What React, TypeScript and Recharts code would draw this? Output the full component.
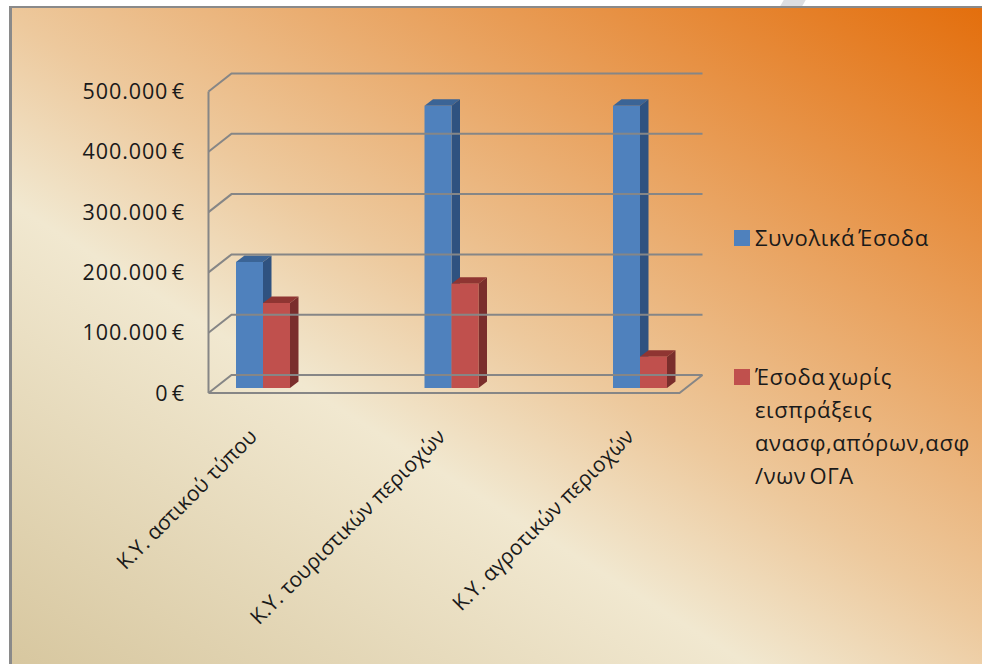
import React from "react";
import { BarChart, Bar, XAxis, YAxis, Legend } from "recharts";

// Health-centre categories and the two income series, in euros.
const categories = [
  "Κ.Υ. αστικού τύπου",
  "Κ.Υ. τουριστικών περιοχών",
  "Κ.Υ. αγροτικών περιοχών",
];
const totalIncome = [209000, 468000, 468000];
const netIncome = [141000, 173000, 52000];
const yTicks = [0, 100000, 200000, 300000, 400000, 500000];
const yTickLabels = ["0 €", "100.000 €", "200.000 €", "300.000 €", "400.000 €", "500.000 €"];
const seriesNames = ["Συνολικά Έσοδα", "Έσοδα χωρίς\nεισπράξεις\nανασφ,απόρων,ασφ\n/νων ΟΓΑ"];

const rows = categories.map((name, i) => ({
  name,
  total: totalIncome[i],
  net: netIncome[i],
}));

const FONT = "'Open Sans', sans-serif";
const TEXT = "#1a1a1a";
const GRID = "#868686";

// Plot box used by the scales, and the oblique projection of the floor and walls.
const W = 982;
const H = 664;
const LEFT = 169;
const RIGHT = 734.5;
const TOP = 86.5;
const BOTTOM = 388;
const WALL_X = 208.5;
const FLOOR_END_X = 679.5;
const DEPTH_X = 23;
const DEPTH_Y = 18;
const FRONT_SHIFT = 5;

const YTick = (props: any) => {
  const { y, payload } = props;
  const front = y + FRONT_SHIFT;
  const back = front - DEPTH_Y;
  const idx = yTicks.indexOf(payload.value);
  return (
    <g>
      <polyline
        points={`${WALL_X},${front} ${WALL_X + DEPTH_X},${back} ${FLOOR_END_X + DEPTH_X},${back}`}
        fill="none"
        stroke={GRID}
        strokeWidth={2}
      />
      {payload.value === 0 && (
        <polyline
          points={`${WALL_X},${front} ${FLOOR_END_X},${front} ${FLOOR_END_X + DEPTH_X},${back}`}
          fill="none"
          stroke={GRID}
          strokeWidth={2}
        />
      )}
      {payload.value === yTicks[yTicks.length - 1] && (
        <line
          x1={WALL_X}
          y1={front}
          x2={WALL_X}
          y2={front + (BOTTOM - TOP)}
          stroke={GRID}
          strokeWidth={2}
        />
      )}
      <text
        x={185}
        y={front + 7.5}
        textAnchor="end"
        fontFamily={FONT}
        fontSize={21.5}
        letterSpacing={0.9}
        wordSpacing={-3}
        fill={TEXT}
      >
        {yTickLabels[idx]}
      </text>
    </g>
  );
};

const XTick = (props: any) => {
  const { x, payload } = props;
  return (
    <text
      transform={`translate(${x - 5},438) rotate(-45)`}
      textAnchor="end"
      fontFamily={FONT}
      fontSize={21}
      fill={TEXT}
    >
      {payload.value}
    </text>
  );
};

// Extruded column: front face, then the lit top and the shaded side.
const depthColumn = (topFill: string, sideFill: string) => (props: any) => {
  const { x, y, width, height, fill } = props;
  const dx = 8.5;
  const dy = 6.5;
  return (
    <g>
      <polygon
        points={`${x},${y} ${x + dx},${y - dy} ${x + width + dx},${y - dy} ${x + width},${y}`}
        fill={topFill}
      />
      <polygon
        points={`${x + width},${y} ${x + width + dx},${y - dy} ${x + width + dx},${y + height - dy} ${x + width},${y + height}`}
        fill={sideFill}
      />
      <rect x={x} y={y} width={width} height={height} fill={fill} />
    </g>
  );
};

const LegendBlock = ({ payload }: any) => {
  const tops = [221, 360];
  return (
    <>
      {(payload || []).map((entry: any, i: number) => (
        <div
          key={entry.value}
          style={{
            position: "absolute",
            left: 734,
            top: tops[i],
            display: "flex",
            width: 245,
            fontFamily: FONT,
            fontSize: 22,
            letterSpacing: 0.6,
            wordSpacing: -3,
            lineHeight: "33px",
            color: TEXT,
            whiteSpace: "pre",
            textAlign: "left",
          }}
        >
          <span
            style={{
              width: 16,
              height: 16,
              marginTop: 9,
              marginRight: 5,
              background: entry.color,
              flex: "none",
            }}
          />
          <span>{entry.value}</span>
        </div>
      ))}
    </>
  );
};

export default function App() {
  return (
    <div
      style={{
        position: "fixed",
        left: 0,
        top: 0,
        width: W,
        height: H,
        overflow: "hidden",
        background: "#ffffff",
      }}
    >
      <div
        style={{
          position: "absolute",
          left: 782,
          top: 0,
          width: 22,
          height: 6,
          background: "#dcdee2",
          transform: "skewX(-30deg)",
        }}
      />
      <div
        style={{
          position: "absolute",
          left: 9,
          top: 6,
          width: 1000,
          height: 700,
          boxSizing: "border-box",
          borderLeft: "3px solid #8a8a8a",
          borderTop: "2px solid #8a8a8a",
          background:
            "linear-gradient(32deg, #d5c49b 0%, #f1e8d0 38%, #edc99d 52%, #e36c09 100%)",
        }}
      />
      <div style={{ position: "absolute", left: 0, top: 0 }}>
        <BarChart
          width={W}
          height={H}
          data={rows}
          barGap={0}
          barSize={27}
          margin={{ left: LEFT - 1, right: W - RIGHT, top: TOP, bottom: H - BOTTOM - 1 }}
        >
          <XAxis
            dataKey="name"
            height={1}
            interval={0}
            axisLine={false}
            tickLine={false}
            tick={<XTick />}
          />
          <YAxis
            width={1}
            domain={[0, 500000]}
            ticks={yTicks}
            interval={0}
            axisLine={false}
            tickLine={false}
            tick={<YTick />}
          />
          <Legend
            content={<LegendBlock />}
            itemSorter={null}
            wrapperStyle={{ left: 0, top: 0, width: 0, height: 0 }}
          />
          <Bar
            dataKey="total"
            name={seriesNames[0]}
            fill="#4f81bd"
            isAnimationActive={false}
            shape={depthColumn("#3b6496", "#2f5280")}
          />
          <Bar
            dataKey="net"
            name={seriesNames[1]}
            fill="#c0504d"
            isAnimationActive={false}
            shape={depthColumn("#8f3532", "#7a2e2c")}
          />
        </BarChart>
      </div>
    </div>
  );
}
